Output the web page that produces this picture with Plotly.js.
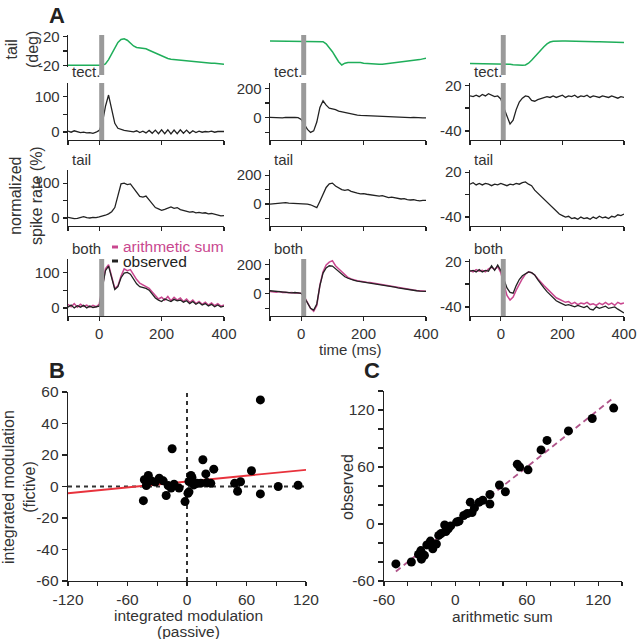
<!DOCTYPE html>
<html><head><meta charset="utf-8">
<script src="https://cdn.plot.ly/plotly-3.0.1.min.js"></script>
<style>html,body{margin:0;padding:0;background:#fff}#chart{width:637px;height:639px}</style>
</head><body><div id="chart"></div>
<script>
// ---------- Panel A data (time in ms) ----------
const time = [-100,-90,-80,-70,-60,-50,-40,-30,-20,-10,0,10,20,30,40,50,60,70,80,90,100,110,120,130,140,150,160,170,180,190,200,210,220,230,240,250,260,270,280,290,300,310,320,330,340,350,360,370,380,390,400];

const tailDeg1 = [-20,-20,-20,-20,-20,-20,-20,-20,-20,-20,-20,-20,-18,-12,-4,5,12,16,17,15,11,7,5,4.5,4,3,1,-1,-3,-5,-7,-9,-10.5,-11.5,-12,-12,-12.5,-13,-13.5,-14,-14.5,-15,-15.5,-15.5,-16,-16.5,-17,-17,-17.5,-18,-18.5];
const tailDeg2 = [14,14,14,14,14,14,14,14,14,14,14,14,14,14,14,14,13.5,13,10,5,-1,-8,-15,-19.5,-17,-16,-16,-16,-15.5,-16,-17,-17.5,-18,-18,-18.5,-18.5,-18.5,-18,-18,-17.5,-17,-16.5,-16,-15,-14.5,-14,-13,-12.5,-12,-11,-10];
const tailDeg3 = [-17.5,-17.5,-17.5,-17.5,-17.5,-17.5,-17.5,-17.5,-17.5,-17.5,-17.5,-17.5,-18,-18.5,-19,-19.5,-20,-20,-19.5,-17,-13,-8,-3,2,6,10,12.5,13.5,14,14,14,14.1,13.9,13.8,13.8,13.6,13.5,13.5,13.3,13.2,13.2,13,12.9,12.9,12.7,12.6,12.6,12.4,12.3,12.2,12];

const tect1 = [2,-1,3,0,-2,-1,-3,-2,-4,-1,4,25,72,104,68,24,10,6,4,3,2,0,3,-2,2,-3,4,-4,5,-5,6,-5,6,-6,5,-5,6,-4,5,-4,3,-2,2,-1,1,0,2,-1,1,2,1];
const tect2 = [2,0,3,1,-2,2,0,3,1,0,-12,-45,-80,-100,-90,-30,70,115,85,65,62,55,45,40,35,28,25,20,18,15,14,12,10,12,8,7,9,5,7,4,6,3,5,2,3,0,2,-1,1,-2,-1];
const tect3 = [6,5,7,5,8,6,9,7,5,6,2,-10,-22,-31,-26,-12,-2,3,6,5,0,-1,1,2,3,5,4,6,4,5,7,4,6,5,7,4,6,5,7,4,6,5,4,6,5,4,6,5,3,5,4];

const tail1 = [2,0,-2,-1,2,4,1,0,2,1,3,5,8,12,18,30,65,98,100,96,98,85,72,62,60,63,52,40,30,26,22,25,28,32,28,30,24,22,20,17,18,15,16,14,15,12,13,10,8,6,7];
const tail2 = [0,3,5,8,12,10,6,5,7,4,5,3,0,-5,-15,-25,20,70,115,140,145,125,110,100,95,100,88,80,75,70,72,68,65,62,60,55,58,50,45,48,42,38,35,38,30,28,30,25,22,26,25];
const tail3 = [4,6,3,5,3,5,4,2,4,3,5,3,2,4,3,5,4,6,7,4,2,-4,-8,-13,-16,-20,-24,-28,-32,-36,-38,-40,-39,-42,-41,-43,-40,-42,-41,-43,-40,-42,-39,-41,-40,-42,-39,-40,-37,-38,-36];

const sum1 = [10,3,12,2,10,4,8,2,7,3,10,60,110,122,90,55,62,90,110,105,108,92,80,70,65,62,55,45,35,25,30,22,32,20,30,22,28,18,25,15,22,12,18,10,16,8,14,6,12,5,8];
const obs1 = [2,8,0,6,2,7,0,5,1,4,5,55,105,118,88,52,60,85,98,100,95,80,68,60,58,55,50,40,28,22,18,25,22,18,24,20,22,16,20,12,18,10,15,8,12,5,10,3,8,2,5];
const sum2 = [15,12,10,14,8,10,6,8,4,6,2,-20,-60,-100,-120,-80,60,150,195,215,225,190,170,150,125,110,100,92,88,85,80,78,76,72,70,68,65,60,55,52,48,42,38,35,30,28,25,22,20,18,17];
const obs2 = [20,18,15,12,14,8,10,5,8,4,2,-25,-65,-100,-112,-70,55,140,175,190,188,170,150,130,115,105,95,90,85,82,78,76,72,70,68,65,62,58,52,48,45,40,36,32,28,25,22,20,18,15,16];
const sum3 = [8,6,9,7,8,6,10,12,9,13,5,-10,-25,-31,-27,-18,-10,-3,3,6,5,2,-3,-8,-12,-16,-20,-24,-28,-30,-32,-34,-33,-36,-34,-37,-35,-36,-34,-37,-36,-38,-35,-37,-34,-37,-35,-38,-34,-36,-35];
const obs3 = [7,8,6,9,6,8,7,14,8,15,8,-5,-15,-21,-22,-12,-4,1,4,6,5,2,-4,-10,-15,-20,-24,-28,-32,-34,-36,-38,-37,-39,-40,-38,-40,-41,-39,-43,-44,-40,-42,-41,-39,-42,-41,-40,-43,-45,-48];

const stimWindow = [0, 16];

// ---------- Panel B data ----------
const passiveB = [74,-15,16,27,65,19,4,-39,-43,-28,-24,-36,-32,-41,-44,-13,-16,-21,-8,-2,2,2,7,10,14,20,24,48,54,51,74,92,112,5,1,-19];
const fictiveB = [55,24,17,11,10,8,7,7,4.3,5.3,3.6,3.6,2.8,0.6,-9,1.5,-1,-5.7,-1,-9.6,-3.4,3.2,1,2,2.1,2.5,2,2,3,-3,-4.7,0,0.8,5.7,-4.3,0.6];
const fitSlopeB = 0.062, fitInterceptB = 3.15;
const fitXB = [-120, 120];

// ---------- Panel C data ----------
const sumC = [-50,-37,-31,-28.5,-29,-24,-21,-16,-14,-9,-8,-4,1,7,10,12.5,14,20,23,29,29,37,42,52,54,61,72,77,95,115,133,-19,-12,-6,3,16,-26];
const obsC = [-42,-40,-32,-37,-28,-22,-18,-21,-12,-1,-8,-2,2,9,11,23,12,23,25,31,21,41,34,63,60,57,78,88,98,111,122,-26,-10,-5,3,17,-33];
const unityC = [-50, 131];

// ---------- layout helpers ----------
const W = 637, H = 639;
const px = v => v / W;
const py = v => 1 - v / H;
const FONT = 'Liberation Sans, Arial, Helvetica, sans-serif';
const INK = '#222', TXT = '#333';
const GREEN = '#1fae5a', PINK = '#c9478f', BLACK = '#222';

const colPx = [[68,224],[270,426],[470,624]];
const rowPx = {deg:[35,67], tect:[83,140], tail:[170,226], both:[259,316]};
const colRange = [[-23,138],[-152,236],[-52,23]];
const colTicks = [
  {vals:[0,50,100], text:['0','','100']},
  {vals:[-100,0,100,200], text:['','0','','200']},
  {vals:[-40,-10,20], text:['-40','','20']}
];

function baseAxis(extra){
  return Object.assign({
    showline:true, linecolor:INK, linewidth:1.3,
    ticks:'outside', ticklen:4, tickwidth:1.3, tickcolor:INK,
    showgrid:false, zeroline:false, tickmode:'array', ticklabeloverflow:'allow',
    tickfont:{size:15, color:TXT, family:FONT}, fixedrange:true
  }, extra);
}

const layout = {
  width:W, height:H, margin:{l:0,r:0,t:0,b:0},
  paper_bgcolor:'#fff', plot_bgcolor:'rgba(0,0,0,0)',
  showlegend:false, font:{family:FONT, color:TXT},
  shapes:[], annotations:[]
};
const data = [];
let axN = 0;
function addAxes(xd, yd, xa, ya){
  axN++;
  const xk = 'xaxis' + (axN===1?'':axN), yk = 'yaxis' + (axN===1?'':axN);
  const xr = 'x' + (axN===1?'':axN), yr = 'y' + (axN===1?'':axN);
  layout[xk] = baseAxis(Object.assign({domain:xd, anchor:yr}, xa));
  layout[yk] = baseAxis(Object.assign({domain:yd, anchor:xr}, ya));
  return {x:xr, y:yr};
}
function line(ref, xs, ys, color, w){
  data.push({type:'scatter', mode:'lines', x:xs, y:ys, xaxis:ref.x, yaxis:ref.y,
    line:{color:color, width:w||1.3}, hoverinfo:'skip'});
}
const xTickVals = [-100,0,200,400];

// tail angle row
const degSeries = [tailDeg1, tailDeg2, tailDeg3];
for (let c=0;c<3;c++){
  const ref = addAxes([px(colPx[c][0]), px(colPx[c][1])], [py(rowPx.deg[1]), py(rowPx.deg[0])],
    {range:[-100,400], visible:false},
    c===0 ? {range:[-22.3,22.3], tickvals:[-20,0,20], ticktext:['-20','','20']} : {range:[-22.3,22.3], visible:false});
  line(ref, time, degSeries[c], GREEN, 1.5);
}
// neural rows
const rows = [
  {key:'tect', series:[tect1,tect2,tect3], label:'tect.'},
  {key:'tail', series:[tail1,tail2,tail3], label:'tail'},
  {key:'both', series:[null,null,null], label:'both'}
];
const sums = [sum1,sum2,sum3], obss = [obs1,obs2,obs3];
const bothRefs = [], tectRefs = [];
rows.forEach((row, ri) => {
  for (let c=0;c<3;c++){
    const bottom = row.key==='both';
    const ref = addAxes([px(colPx[c][0]), px(colPx[c][1])], [py(rowPx[row.key][1]), py(rowPx[row.key][0])],
      {range:[-100,400], tickvals:xTickVals, ticktext: bottom ? ['','0','200','400'] : ['','','','']},
      {range:colRange[c], tickvals:colTicks[c].vals, ticktext:colTicks[c].text});
    if (row.key==='both'){
      line(ref, time, sums[c], PINK, 1.5);
      line(ref, time, obss[c], BLACK, 1.3);
      bothRefs.push(ref);
    } else {
      line(ref, time, row.series[c], BLACK, 1.3);
      if (row.key==='tect') tectRefs.push(ref);
    }
    layout.annotations.push({xref:'paper', yref:'paper', x:px(colPx[c][0]+2), y:py(rowPx[row.key][0]-11),
      xanchor:'left', yanchor:'middle', text:row.label, showarrow:false, font:{size:15, color:TXT}});
  }
});
// stimulus bars
for (let c=0;c<3;c++){
  layout.shapes.push({type:'rect', layer:'above', xref:tectRefs[c].x, yref:'paper', x0:stimWindow[0], x1:stimWindow[1],
    y0:py(75), y1:py(35), fillcolor:'#9a9a9a', line:{width:0}});
  layout.shapes.push({type:'rect', layer:'above', xref:tectRefs[c].x, yref:'paper', x0:stimWindow[0], x1:stimWindow[1],
    y0:py(140), y1:py(83), fillcolor:'#9a9a9a', line:{width:0}});
  layout.shapes.push({type:'rect', layer:'above', xref:bothRefs[c].x, yref:'paper', x0:stimWindow[0], x1:stimWindow[1],
    y0:py(316), y1:py(259), fillcolor:'#9a9a9a', line:{width:0}});
}
// legend in A
layout.shapes.push({type:'line', xref:'paper', yref:'paper', x0:px(112), x1:px(118), y0:py(247), y1:py(247), line:{color:PINK, width:3}});
layout.shapes.push({type:'line', xref:'paper', yref:'paper', x0:px(112), x1:px(118), y0:py(261), y1:py(261), line:{color:BLACK, width:3}});
layout.annotations.push({xref:'paper', yref:'paper', x:px(121), y:py(246), xanchor:'left', yanchor:'middle', text:'arithmetic sum', showarrow:false, font:{size:15.5, color:PINK}});
layout.annotations.push({xref:'paper', yref:'paper', x:px(121), y:py(261), xanchor:'left', yanchor:'middle', text:'observed', showarrow:false, font:{size:15.5, color:BLACK}});

// ---------- Panel B ----------
const bigFont = {size:15.5, color:TXT, family:FONT};
const refB = addAxes([px(68), px(306)], [py(581), py(392)],
  {range:[-120,120], tickvals:[-120,-90,-60,-30,0,30,60,90,120], ticktext:['-120','','-60','','0','','60','','120'], tickfont:bigFont, ticklen:4},
  {range:[-60,60], tickvals:[-60,-40,-20,0,20,40,60], ticktext:['-60','-40','-20','0','20','40','60'], tickfont:bigFont, ticklen:5});
layout.shapes.push({type:'line', layer:'below', xref:refB.x, yref:refB.y, x0:-120, x1:120, y0:0, y1:0, line:{color:'#333', width:2, dash:'4px,4px'}});
layout.shapes.push({type:'line', layer:'below', xref:refB.x, yref:refB.y, x0:0, x1:0, y0:-60, y1:60, line:{color:'#333', width:2, dash:'4px,4px'}});
line(refB, fitXB, fitXB.map(v => fitInterceptB + fitSlopeB*v), '#e8323c', 1.8);
data.push({type:'scatter', mode:'markers', x:passiveB, y:fictiveB, xaxis:refB.x, yaxis:refB.y,
  marker:{color:'#000', size:9}, hoverinfo:'skip', cliponaxis:false});

// ---------- Panel C ----------
const refC = addAxes([px(384), px(622)], [py(581), py(391)],
  {range:[-60,140], tickvals:[-60,-40,-20,0,20,40,60,80,100,120,140], ticktext:['-60','','','0','','','60','','','120',''], tickfont:bigFont, ticklen:4},
  {range:[-60,140], tickvals:[-60,-40,-20,0,20,40,60,80,100,120,140], ticktext:['-60','','','0','','','60','','','120',''], tickfont:bigFont, ticklen:5});
line(refC, unityC, unityC, '#b0558a', 1.8);
data[data.length-1].line.dash = '6px,4px';
data.push({type:'scatter', mode:'markers', x:sumC, y:obsC, xaxis:refC.x, yaxis:refC.y,
  marker:{color:'#000', size:9}, hoverinfo:'skip', cliponaxis:false});

// ---------- text labels ----------
function ann(x, y, text, opts){
  layout.annotations.push(Object.assign({xref:'paper', yref:'paper', x:px(x), y:py(y), xanchor:'center', yanchor:'middle',
    text:text, showarrow:false, font:{size:16, color:TXT}}, opts||{}));
}
ann(57, 15, '<b>A</b>', {font:{size:22, color:'#222'}});
ann(57, 370, '<b>B</b>', {font:{size:22, color:'#222'}});
ann(372, 370, '<b>C</b>', {font:{size:22, color:'#222'}});
ann(22, 50, 'tail<br>(deg)', {textangle:-90});
ann(26, 195, 'normalized<br>spike rate (%)', {textangle:-90});
ann(350, 349, 'time (ms)', {font:{size:15, color:TXT}});
ann(188, 615, 'integrated modulation', {font:{size:15.5, color:TXT}});
ann(188, 631, '(passive)', {font:{size:15.5, color:TXT}});
ann(19, 487, 'integrated modulation<br>(fictive)', {textangle:-90});
ann(503, 616, 'arithmetic sum', {font:{size:15.5, color:TXT}});
ann(347, 487, 'observed', {textangle:-90});

Plotly.newPlot('chart', data, layout, {staticPlot:true, displayModeBar:false});
</script>
</body></html>
